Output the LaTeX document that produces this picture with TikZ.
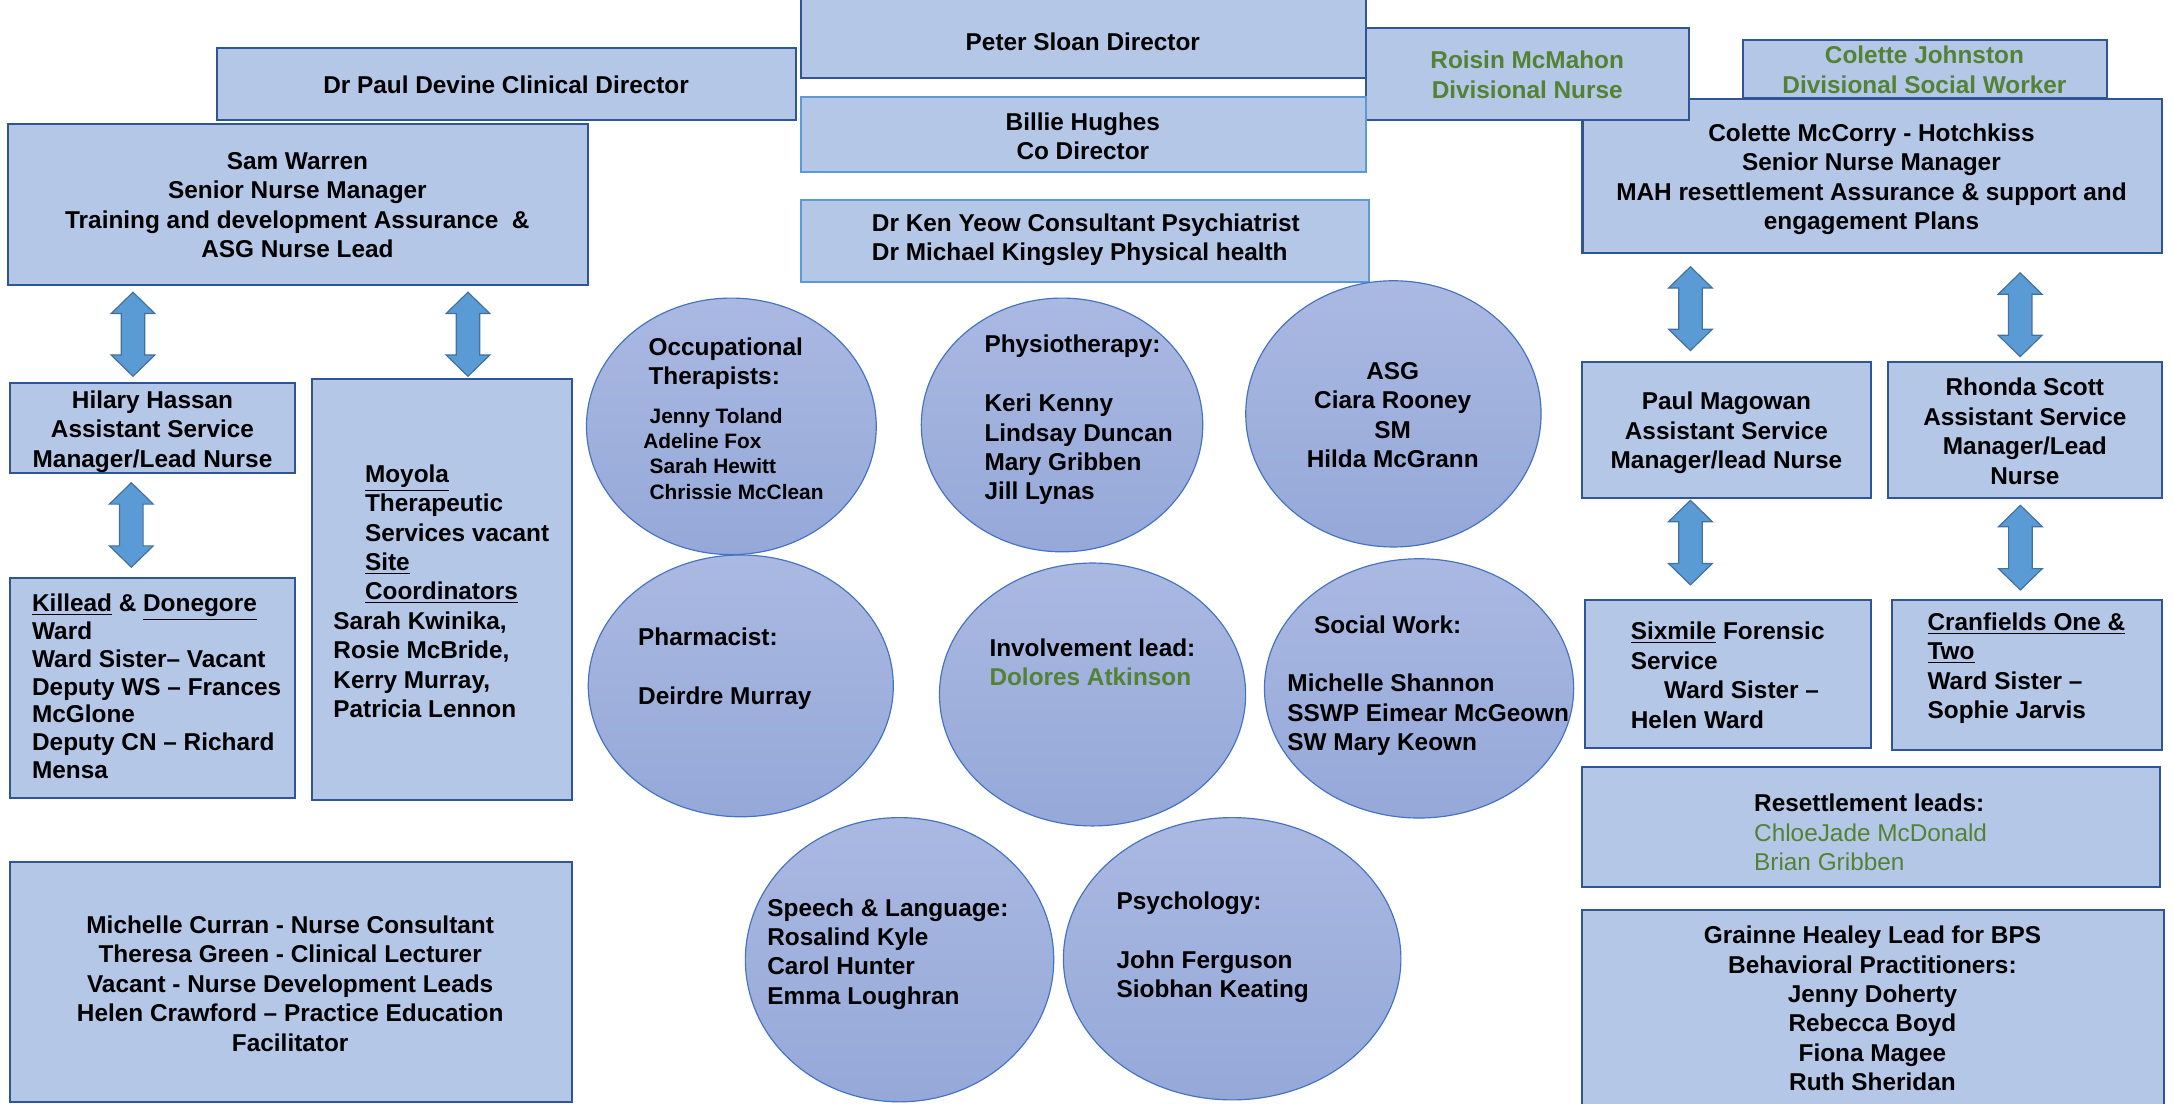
\documentclass[tikz,border=0pt]{standalone}
\usepackage{fontspec}
\setmainfont{Liberation Sans}
\usepackage{tikz}
\usetikzlibrary{calc,fit,shapes.geometric}

\definecolor{boxfill}{HTML}{B4C7E7}
\definecolor{boxedge}{HTML}{2F5597}
\definecolor{paleedge}{HTML}{5B9BD5}
\definecolor{ovaltop}{HTML}{AAB9E2}
\definecolor{ovalbot}{HTML}{95A8D8}
\definecolor{ovaledge}{HTML}{4472C4}
\definecolor{arrowfill}{HTML}{5B9BD5}
\definecolor{arrowedge}{HTML}{41719C}
\definecolor{leafgreen}{HTML}{548235}

\newcommand{\bodyfont}{\fontsize{12.5}{15.1}\selectfont\bfseries}
\newcommand{\tightfont}{\fontsize{12.5}{14.3}\selectfont\bfseries}
\newcommand{\namefont}{\fontsize{10.7}{13}\selectfont\bfseries}

\tikzset{
  box/.style={rectangle, draw=boxedge, fill=boxfill, line width=1.1pt, inner sep=0pt},
  palebox/.style={box, draw=paleedge},
  oval/.style={ellipse, draw=ovaledge, line width=0.6pt, top color=ovaltop, bottom color=ovalbot, inner sep=0pt},
  txt/.style={font=\bodyfont, inner sep=0pt, align=center},
  ltxt/.style={txt, align=left, anchor=west},
  biarrow/.style={fill=arrowfill, draw=arrowedge, line width=0.6pt},
}

\newcommand{\vbiarrow}[2]{%
  \draw[biarrow] (#1) -- ++(15.8,15.4) -- ++(-7.3,0) -- ($(#2)+(8.5,-15.4)$)
    -- ++(7.3,0) -- (#2) -- ++(-15.8,-15.4) -- ++(7.3,0)
    -- ($(#1)+(-8.5,15.4)$) -- ++(-7.3,0) -- cycle;}

\begin{document}
\begin{tikzpicture}[x=0.25mm, y=-0.25mm]
\useasboundingbox (0,0) rectangle (1568,796);

\node[box, fit={(577.7,-5) (985,56)}] (sloan) {};
\node[box, fit={(156.4,34.9) (574,86.5)}] (devine) {};
\node[box, fit={(1257.3,28.9) (1519.6,71)}] (johnston) {};
\node[box, fit={(1141.4,71.2) (1559.3,182.7)}] (mccorry) {};
\node[box, fit={(985,20) (1218,86.5)}] (roisin) {};
\node[palebox, fit={(577.7,70.2) (985,124.3)}] (hughes) {};
\node[palebox, fit={(577.7,144.2) (987.6,203.2)}] (yeow) {};
\node[box, fit={(5.5,89.4) (424,205.6)}] (warren) {};
\node[box, fit={(7.4,276.5) (213,341.4)}] (hassan) {};
\node[box, fit={(7.4,417.1) (213,575.8)}] (killead) {};
\node[box, fit={(225,273.6) (412.6,577)}] (moyola) {};
\node[box, fit={(7.1,621.5) (412.8,794.6)}] (curran) {};
\node[box, fit={(1141.2,261.3) (1349.7,359.4)}] (magowan) {};
\node[box, fit={(1361.7,261.3) (1559.5,359)}] (scott) {};
\node[box, fit={(1143,432.7) (1349.7,539.3)}] (sixmile) {};
\node[box, fit={(1364.6,432.7) (1559.5,541)}] (cranfields) {};
\node[box, fit={(1141.2,553.4) (1557.8,639.5)}] (resettle) {};
\node[box, fit={(1141.2,656.3) (1560.8,810)}] (grainne) {};

\node[oval, minimum width=52.25mm, minimum height=46.25mm] (ot) at (527.5,307.5) {};
\node[oval, minimum width=50.75mm, minimum height=45.75mm] (physio) at (766,306.5) {};
\node[oval, minimum width=53.25mm, minimum height=48mm] (asg) at (1005,298.5) {};
\node[oval, minimum width=55mm, minimum height=47.2mm] (pharm) at (534.3,494.7) {};
\node[oval, minimum width=55.2mm, minimum height=47.4mm] (involve) at (788,500.9) {};
\node[oval, minimum width=55.75mm, minimum height=46.75mm] (social) at (1023.5,496.5) {};
\node[oval, minimum width=55.6mm, minimum height=51.25mm] (speech) at (648.8,692.2) {};
\node[oval, minimum width=60.85mm, minimum height=50.9mm] (psych) at (888.7,691.5) {};

\node[txt] (sloantxt) at (781,30) {Peter Sloan Director};
\node[txt] (devinetxt) at (365,61.3) {Dr Paul Devine Clinical Director};
\node[txt, text=leafgreen] (roisintxt) at (1101.5,54.1) {Roisin McMahon\\Divisional Nurse};
\node[txt, text=leafgreen] (johnstontxt) at (1388,50.2) {Colette Johnston\\Divisional Social Worker};
\node[txt] (hughestxt) at (781,98.2) {Billie Hughes\\Co Director};
\node[txt] (warrentxt) at (214.5,148) {Sam Warren\\Senior Nurse Manager\\Training and development Assurance~~\&\\ASG Nurse Lead};
\node[txt] (mccorrytxt) at (1349.8,129.3) {Colette McCorry - Hotchkiss\\Senior Nurse Manager\\MAH resettlement Assurance \& support and\\engagement Plans};
\node[ltxt] (yeowtxt) at (628.6,173) {Dr Ken Yeow Consultant Psychiatrist\\Dr Michael Kingsley Physical health};
\node[txt] (hassantxt) at (110,311.3) {Hilary Hassan\\Assistant Service\\Manager/Lead Nurse};
\node[ltxt] (moyolatxt) at (240.2,426.4) {\hspace*{5.7mm}\underline{Moyola}\\\hspace*{5.7mm}Therapeutic\\\hspace*{5.7mm}Services vacant\\\hspace*{5.7mm}\underline{Site}\\\hspace*{5.7mm}\underline{Coordinators}\\Sarah Kwinika,\\Rosie McBride,\\Kerry Murray,\\Patricia Lennon};
\node[ltxt, font=\tightfont] (killeadtxt) at (22.9,495) {\underline{Killead} \& \underline{Donegore}\\Ward\\Ward Sister– Vacant\\Deputy WS – Frances\\McGlone\\Deputy CN – Richard\\Mensa};
\node[txt] (currantxt) at (209.3,709.5) {Michelle Curran - Nurse Consultant\\Theresa Green - Clinical Lecturer\\Vacant - Nurse Development Leads\\Helen Crawford – Practice Education\\Facilitator};
\node[txt] (magowantxt) at (1245.2,312.3) {Paul Magowan\\Assistant Service\\Manager/lead Nurse};
\node[txt] (scotttxt) at (1460.4,311) {Rhonda Scott\\Assistant Service\\Manager/Lead\\Nurse};
\node[ltxt] (sixmiletxt) at (1176,487) {\underline{Sixmile} Forensic\\Service\\\hspace*{6mm}Ward Sister –\\Helen Ward};
\node[ltxt] (cranfieldstxt) at (1390,482) {\underline{Cranfields One \&}\\\underline{Two}\\Ward Sister –\\Sophie Jarvis};
\node[ltxt] (resettletxt) at (1264.9,600.5) {Resettlement leads:\\{\mdseries\color{leafgreen}ChloeJade McDonald}\\{\mdseries\color{leafgreen}Brian Gribben}};
\node[txt] (grainnetxt) at (1350.5,727.4) {Grainne Healey Lead for BPS\\Behavioral Practitioners:\\Jenny Doherty\\Rebecca Boyd\\Fiona Magee\\Ruth Sheridan};

\node[ltxt] (othead) at (467.5,262.5) {Occupational\\Therapists:};
\node[ltxt, font=\namefont] (otnames) at (463.7,327.3) {\hspace*{1.15mm}Jenny Toland\\Adeline Fox\\\hspace*{1.15mm}Sarah Hewitt\\\hspace*{1.15mm}Chrissie McClean};
\node[ltxt] (physiotxt) at (709.8,303) {Physiotherapy:\\[15.1pt]Keri Kenny\\Lindsay Duncan\\Mary Gribben\\Jill Lynas};
\node[txt] (asgtxt) at (1004.5,299.5) {ASG\\Ciara Rooney\\SM\\Hilda McGrann};
\node[ltxt] (pharmtxt) at (460,482.5) {Pharmacist:\\[15.1pt]Deirdre Murray};
\node[ltxt] (involvetxt) at (713.4,477.5) {Involvement lead:\\\textcolor{leafgreen}{Dolores Atkinson}};
\node[ltxt] (socialtxt) at (928.3,494.5) {\hspace*{4.8mm}Social Work:\\[15.1pt]Michelle Shannon\\SSWP Eimear McGeown\\SW Mary Keown};
\node[ltxt] (speechtxt) at (553.2,688) {Speech \& Language:\\Rosalind Kyle\\Carol Hunter\\Emma Loughran};
\node[ltxt] (psychtxt) at (805.1,683.4) {Psychology:\\[15.1pt]John Ferguson\\Siobhan Keating};

\coordinate (a1t) at ($(warren.south west)+(91.2,4.4)$);
\coordinate (a1b) at ($(hassan.north west)+(89.3,-4.3)$);
\coordinate (a2t) at ($(warren.south west)+(332.8,4.4)$);
\coordinate (a2b) at ($(moyola.north west)+(113.3,-1.4)$);
\coordinate (a3t) at ($(hassan.south west)+(88.1,6)$);
\coordinate (a3b) at ($(killead.north west)+(88.1,-7.2)$);
\coordinate (a4t) at ($(mccorry.south west)+(78.6,8.9)$);
\coordinate (a4b) at ($(magowan.north west)+(78.8,-7.7)$);
\coordinate (a5t) at ($(mccorry.south west)+(316.4,13.3)$);
\coordinate (a5b) at ($(scott.north west)+(96.1,-3.3)$);
\coordinate (a6t) at ($(magowan.south west)+(78.8,0.7)$);
\coordinate (a6b) at ($(sixmile.north west)+(77,-10.1)$);
\coordinate (a7t) at ($(scott.south west)+(96.3,4.7)$);
\coordinate (a7b) at ($(cranfields.north west)+(93.4,-6.4)$);

\vbiarrow{a1t}{a1b}
\vbiarrow{a2t}{a2b}
\vbiarrow{a3t}{a3b}
\vbiarrow{a4t}{a4b}
\vbiarrow{a5t}{a5b}
\vbiarrow{a6t}{a6b}
\vbiarrow{a7t}{a7b}
\end{tikzpicture}
\end{document}
